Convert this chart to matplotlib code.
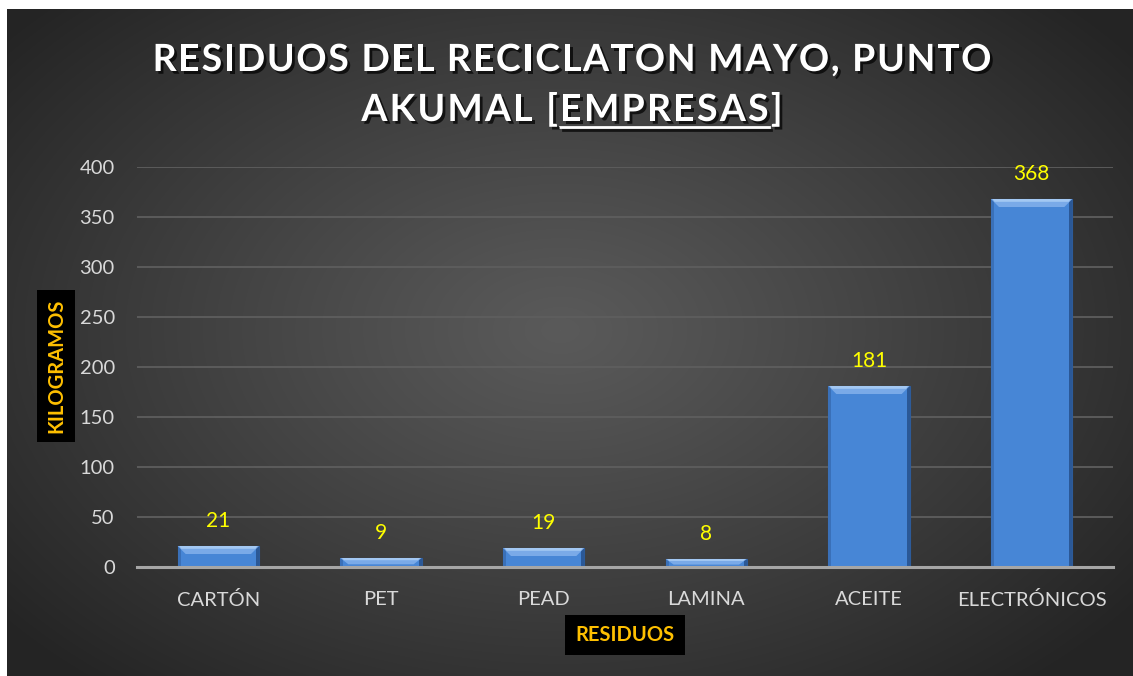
import numpy as np
import matplotlib
matplotlib.use("Agg")
import matplotlib.pyplot as plt
import matplotlib.patheffects as pe
from matplotlib.patches import Polygon

categories = ["CARTÓN", "PET", "PEAD", "LAMINA", "ACEITE", "ELECTRÓNICOS"]
values = [21, 9, 19, 8, 181, 368]
yticks = [0, 50, 100, 150, 200, 250, 300, 350, 400]
title_line1 = "RESIDUOS DEL RECICLATON MAYO, PUNTO"
title_line2 = ["AKUMAL [", "EMPRESAS", "]"]
ylabel = "KILOGRAMOS"
xlabel = "RESIDUOS"

FONT = "Lato"
W, H = 1133, 676
fig = plt.figure(figsize=(W / 100, H / 100), dpi=100)
fig.patch.set_facecolor("white")

# background gradient
bg = fig.add_axes([0, 0, 1, 1], zorder=-5)
bg.set_xlim(0, W); bg.set_ylim(H, 0); bg.axis("off")
yy, xx = np.mgrid[0:H, 0:W]
r = np.sqrt(((xx - 560) / 720.0) ** 2 + ((yy - 330) / 470.0) ** 2)
r = np.clip(r, 0, 1)
c = 0x5a + (0x24 - 0x5a) * r ** 1.1
img = np.dstack([c, c, c]) / 255.0
img = img[9:, 7:]
bg.imshow(img, extent=[7, W, H, 9], aspect="auto", interpolation="bilinear")

left, right = 137 / W, 1113 / W
bottom, top = (H - 567) / H, (H - 167) / H
ax = fig.add_axes([left, bottom, right - left, top - bottom])
ax.patch.set_visible(False)

x = np.arange(len(categories))
bw = 0.5
ax.bar(x, values, width=bw, color="#4786d6", edgecolor="#2d5b99", linewidth=0.8, zorder=3)

# bevel decoration derived from bar geometry
PXX = 1 / 162.7  # px -> data x
bt = 8 * PXX     # top bevel corner width
bs = 3 * PXX     # side bevel width
by = 8.0         # px -> data y (1 unit = 1 px)
for xi, v in zip(x, values):
    x0, x1 = xi - bw / 2, xi + bw / 2
    hb = min(by, v * 0.7)
    ax.add_patch(Polygon([(x0, v), (x0 + bs, v), (x0 + bs, 0), (x0, 0)],
                         closed=True, facecolor="#3a70b8", edgecolor="none", zorder=4))
    ax.add_patch(Polygon([(x1, v), (x1 - bs, v), (x1 - bs, 0), (x1, 0)],
                         closed=True, facecolor="#2b5896", edgecolor="none", zorder=4))
    ax.add_patch(Polygon([(x0, v), (x1, v), (x1 - bt, v - hb), (x0 + bt, v - hb)],
                         closed=True, facecolor="#7aaae8", edgecolor="none", zorder=5))
    ax.add_patch(Polygon([(x0 + bt * 0.2, v), (x1 - bt * 0.2, v),
                          (x1 - bt * 0.45, v - hb * 0.35), (x0 + bt * 0.45, v - hb * 0.35)],
                         closed=True, facecolor="#a3c8f3", edgecolor="none", zorder=5))
    ax.annotate(str(v), (xi, v), xytext=(0, 25), textcoords="offset pixels",
                ha="center", va="center", color="#ffff00", fontsize=15, family=FONT, zorder=6)

ax.set_xlim(-0.5, len(categories) - 0.5)
ax.set_ylim(0, 400)
ax.set_yticks(yticks)
ax.set_yticklabels([str(t) for t in yticks])
ax.set_xticks(x)
ax.set_xticklabels(categories)
ax.tick_params(axis="both", length=0, colors="#d9d9d9", labelsize=14.5)
ax.tick_params(axis="y", pad=16)
ax.tick_params(axis="x", pad=17.5)
for lab in ax.get_xticklabels() + ax.get_yticklabels():
    lab.set_family(FONT)
ax.grid(axis="y", color="#5e5e5e", linewidth=1.3, zorder=0)
ax.grid(axis="x", visible=False)
for s in ["top", "right", "left"]:
    ax.spines[s].set_visible(False)
ax.spines["bottom"].set_color("#a6a6a6")
ax.spines["bottom"].set_linewidth(2.2)
ax.spines["bottom"].set_zorder(7)

# axis labels in black boxes
fig.text(56 / W, 1 - 366 / H, ylabel, rotation=90, ha="center", va="center",
         color="#ffc000", fontsize=14.5, fontweight="bold", family=FONT,
         bbox=dict(boxstyle="square,pad=0.45", facecolor="black", edgecolor="none"))
fig.text(625 / W, 1 - 635 / H, xlabel, ha="center", va="center",
         color="#ffc000", fontsize=14.5, fontweight="bold", family=FONT,
         bbox=dict(boxstyle="square,pad=0.5", facecolor="black", edgecolor="none"))

# title with letter spacing
shadow = [pe.SimplePatchShadow(offset=(2, -2), shadow_rgbFace="black", alpha=0.7), pe.Normal()]
tkw = dict(color="white", fontsize=27, fontweight="bold", family=FONT, path_effects=shadow)
renderer = fig.canvas.get_renderer()

def char_widths(s):
    ws = []
    for ch in s:
        if ch == " ":
            t = fig.text(0, 0, "a a", **tkw)
            w2 = t.get_window_extent(renderer).width
            t.set_text("aa")
            w1 = t.get_window_extent(renderer).width
            t.remove()
            ws.append(w2 - w1)
        else:
            t = fig.text(0, 0, ch, **tkw)
            ws.append(t.get_window_extent(renderer).width)
            t.remove()
    return ws

SP = 1.7

def draw_spaced(s, xstart, base_y, sp):
    ws = char_widths(s)
    xc = xstart
    for ch, w in zip(s, ws):
        if ch != " ":
            fig.text(xc / W, 1 - base_y / H, ch, ha="left", va="baseline", **tkw)
        xc += w + sp
    return xc

def spaced_width(s, sp):
    return sum(char_widths(s)) + sp * (len(s) - 1)

cx = 572
w1 = spaced_width(title_line1, SP)
draw_spaced(title_line1, cx - w1 / 2, 71, SP)

SP2 = 2.2
full2 = "".join(title_line2)
w2 = spaced_width(full2, SP2)
xs = cx - w2 / 2
x_a = draw_spaced(title_line2[0], xs, 121, SP2)
x_b = draw_spaced(title_line2[1], x_a, 121, SP2)
draw_spaced(title_line2[2], x_b, 121, SP2)
fig.add_artist(plt.Line2D([x_a / W, (x_b - SP2) / W], [1 - 127 / H] * 2, color="white",
                          linewidth=2, transform=fig.transFigure,
                          path_effects=[pe.SimpleLineShadow(offset=(2, -2), alpha=0.7), pe.Normal()]))

fig.savefig("out.png", dpi=100, facecolor=fig.get_facecolor())
